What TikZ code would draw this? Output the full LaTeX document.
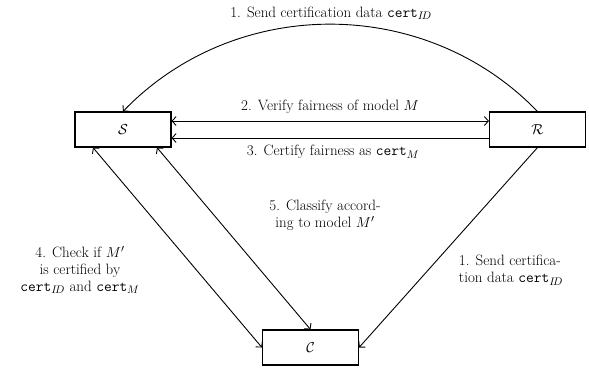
\documentclass[tikz,border=0pt]{standalone}
\usetikzlibrary{arrows.meta}
\begin{document}
\begin{tikzpicture}[x=1pt,y=-1pt,
  font=\fontsize{15}{17}\selectfont,
  box/.style={draw, line width=1.1pt, minimum width=96pt, minimum height=35pt, inner sep=0pt},
  tipb/.tip={Straight Barb[length=4pt,width=9pt]},
  link/.style={line width=0.9pt, -tipb},
  twoway/.style={line width=0.9pt, tipb-tipb},
  lbl/.style={align=center, inner sep=0pt}]
\useasboundingbox (0,0) rectangle (589,368);
\node[box] (S) at (123,129.5) {$\mathcal{S}$};
\node[box] (R) at (537.5,129.5) {$\mathcal{R}$};
\node[box] (C) at (310.5,347.5) {$\mathcal{C}$};
% connectors
\draw[link] (R.north) to[out=134,in=46] (S.north);
\draw[twoway] ([yshift=8.5pt]S.east) -- ([yshift=8.5pt]R.west);
\draw[link] ([yshift=-8.5pt]R.west) -- ([yshift=-8.5pt]S.east);
\draw[link] (R.south) -- (C.east);
\draw[twoway] (S.211) -- (C.west);
\draw[twoway] (S.-28) -- (C.north);
% labels
\node[lbl] (l1) at (331,13) {1. Send certification data $\texttt{cert}_{I\!D}$};
\node[lbl] (l2) at (330,107) {2. Verify fairness of model $M$};
\node[lbl] (l3) at (333,152) {3. Certify fairness as $\texttt{cert}_{M}$};
\node[lbl] (l5) at (325,215) {5. Classify accord-\\ing to model $M'$};
\node[lbl] (l4) at (80,270) {4. Check if $M'$\\is certified by\\$\texttt{cert}_{I\!D}$ and $\texttt{cert}_{M}$};
\node[lbl, align=left] (l1b) at (511,270) {1. Send certifica-\\tion data $\texttt{cert}_{I\!D}$};
\end{tikzpicture}
\end{document}
